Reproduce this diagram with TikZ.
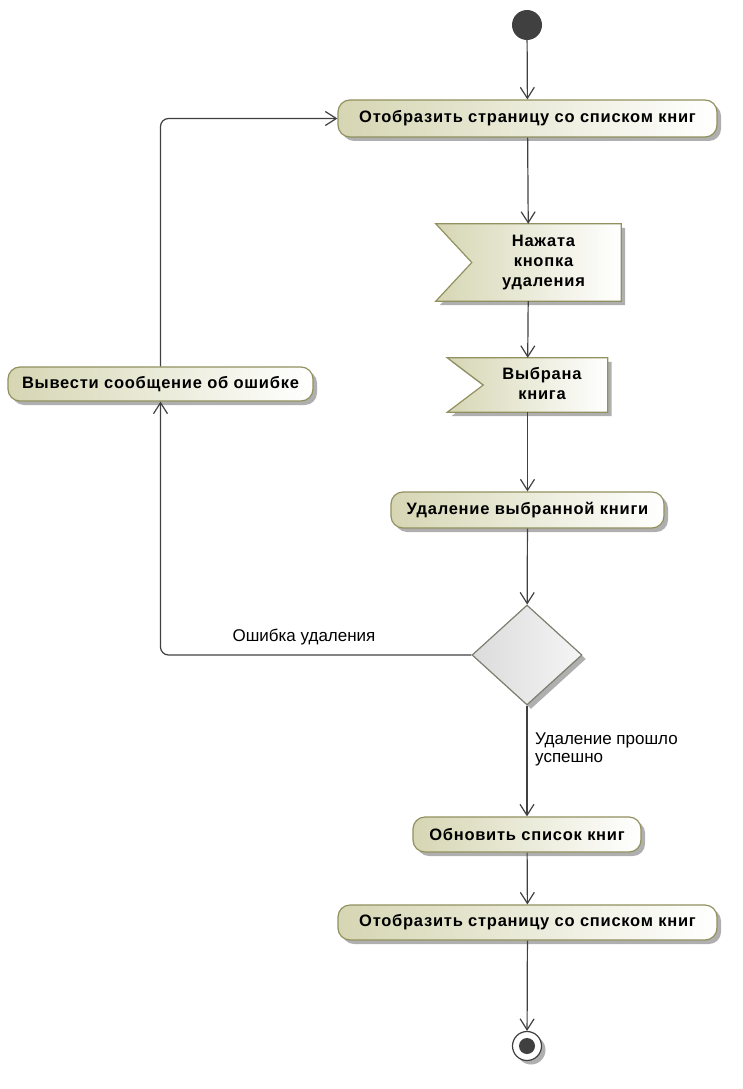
\documentclass[tikz,border=0pt]{standalone}
\usepackage{fontspec}
\setmainfont{Liberation Sans}
\newfontfamily\actfont[LetterSpace=4.5]{Liberation Sans}
\usetikzlibrary{arrows.meta,shapes.geometric,shadows,backgrounds}
\definecolor{edgec}{RGB}{64,64,64}
\definecolor{olivec}{RGB}{145,145,95}
\definecolor{khakic}{RGB}{214,214,180}
\definecolor{dborder}{RGB}{125,125,112}
\definecolor{shadowc}{RGB}{175,175,175}
\begin{document}
\begin{tikzpicture}[x=1pt,y=-1pt,
  shadowed/.style={drop shadow={shadow xshift=4pt,shadow yshift=-4pt,fill=shadowc,opacity=1}},
  action/.style={draw=olivec,line width=1.2pt,rounded corners=12pt,left color=khakic,right color=white,
    font=\actfont\fontsize{16.5}{20}\selectfont\bfseries,inner sep=0pt,shadowed},
  sigbox/.style={inner sep=0pt,align=center,font=\actfont\fontsize{16.5}{20}\selectfont\bfseries},
  sigshape/.style={draw=olivec,line width=1.2pt,left color=khakic,right color=white,shadowed},
  lbl/.style={font=\fontsize{17}{18}\selectfont,inner sep=0pt},
  line/.style={draw=edgec,line width=1.2pt},
  arr/.style={line,-{Straight Barb[length=11pt,width=14pt]}}
]
\useasboundingbox (0,0) rectangle (742,1089);

% nodes
\node[circle,fill=edgec,minimum size=30pt,inner sep=0pt] (init) at (527,25) {};
\node[action,minimum width=379pt,minimum height=37pt] (act1) at (527.5,118.5) {Отобразить страницу со списком книг};
\node[sigbox,minimum width=185pt,minimum height=77pt] (sig1) at (528.5,262.5) {\hspace*{30pt}\begin{tabular}{@{}c@{}}Нажата\\кнопка\\удаления\end{tabular}};
\node[sigbox,minimum width=160pt,minimum height=54pt] (sig2) at (527.5,385) {\hspace*{29pt}\begin{tabular}{@{}c@{}}Выбрана\\книга\end{tabular}};
\node[action,minimum width=273pt,minimum height=36pt] (act3) at (527.5,510) {Удаление выбранной книги};
\node[diamond,draw=dborder,line width=1.2pt,left color=black!14,right color=black!4,
  minimum width=110pt,minimum height=100pt,inner sep=0pt,shadowed] (dec) at (527,655) {};
\node[action,minimum width=305pt,minimum height=34pt] (err) at (160.5,384) {Вывести сообщение об ошибке};
\node[action,minimum width=228pt,minimum height=35pt] (act4) at (527,834.5) {Обновить список книг};
\node[action,minimum width=379pt,minimum height=35pt] (act5) at (527.5,922.5) {Отобразить страницу со списком книг};
\node[circle,draw=edgec,fill=white,line width=1.2pt,minimum size=29pt,inner sep=0pt,shadowed] (fin) at (527,1046) {};
\node[circle,fill=edgec,minimum size=16pt,inner sep=0pt] (finin) at (fin.center) {};

% signal outlines
\begin{scope}[on background layer]
\path[sigshape] (sig1.north west) -- (sig1.north east) -- (sig1.south east) -- (sig1.south west)
  -- ([xshift=36pt]sig1.west) -- cycle;
\path[sigshape] (sig2.north west) -- (sig2.north east) -- (sig2.south east) -- (sig2.south west)
  -- ([xshift=36pt]sig2.west) -- cycle;
\end{scope}

% connectors
\draw[arr] (init) -- (act1);
\draw[arr] (act1) -- (sig1);
\draw[arr] (sig1) -- (sig2);
\draw[arr] (sig2) -- (act3);
\draw[arr] (act3) -- (dec);
\draw[arr] (dec) -- (act4);
\draw[arr] (act4) -- (act5);
\draw[arr] (act5) -- (fin);
\draw[arr,rounded corners=8pt] (dec.west) -| (err.south);
\draw[arr,rounded corners=8pt] (err.north) |- (act1.west);

% labels
\node[lbl] (lerr) at (304,637) {Ошибка удаления};
\node[lbl,align=left,anchor=west] (lok) at (535,749) {Удаление прошло\\успешно};
\end{tikzpicture}
\end{document}
